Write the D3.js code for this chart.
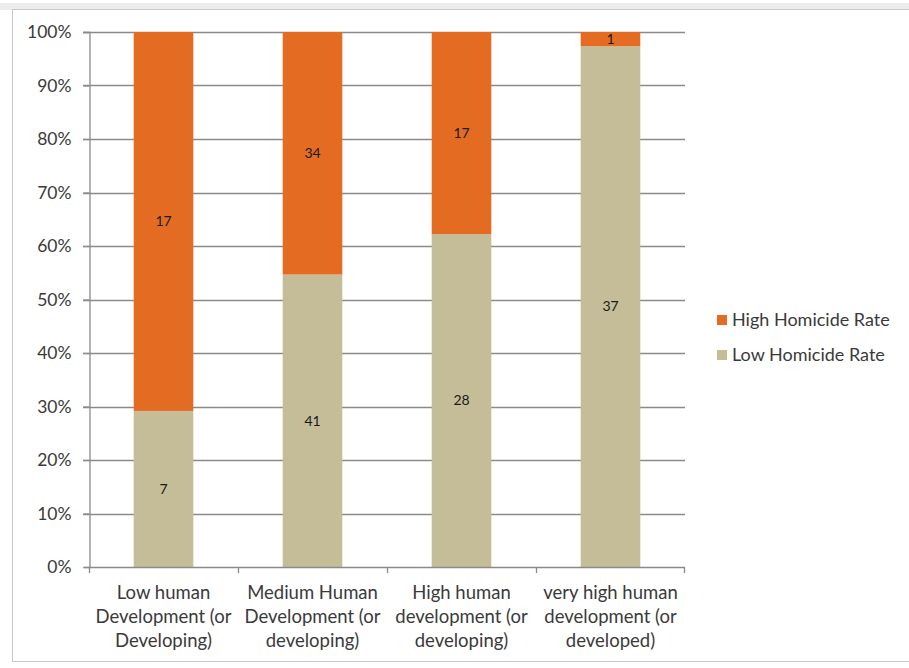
<!DOCTYPE html>
<html>
<head>
<meta charset="utf-8">
<script src="https://cdn.jsdelivr.net/npm/d3@7"></script>
<style>
  body { margin: 0; background: #fff; }
  svg text { font-family: Lato, "Open Sans", sans-serif; }
</style>
</head>
<body>
<div id="chart"></div>
<script>
// Data
const categories = [
    ['Low human', 'Development (or', 'Developing)'],
    ['Medium Human', 'Development (or', 'developing)'],
    ['High human', 'development (or', 'developing)'],
    ['very high human', 'development (or', 'developed)']
]
const lowRate = [7, 41, 28, 37]
const highRate = [17, 34, 17, 1]
const seriesNames = ['High Homicide Rate', 'Low Homicide Rate']
const yTicks = [0, 0.1, 0.2, 0.3, 0.4, 0.5, 0.6, 0.7, 0.8, 0.9, 1]

// Colors
const highColor = '#E46C22'
const lowColor = '#C4BD97'
const gridColor = '#8a8a8a'
const fontColor = '#3a3a3a'

// Dimensions
const width = 909
const height = 668
const plotLeft = 89
const plotRight = 685
const plotTop = 32
const plotBottom = 567

const svg = d3.select('#chart')
    .append('svg')
    .attr('width', width)
    .attr('height', height)

// Outer frame
svg.append('rect')
    .attr('x', 0).attr('y', 3)
    .attr('width', width).attr('height', 7)
    .attr('fill', '#ececec')
svg.append('rect')
    .attr('x', 12.5).attr('y', 9.5)
    .attr('width', width + 10).attr('height', 652)
    .attr('fill', 'none')
    .attr('stroke', '#c8c8c8')

const x = d3.scaleBand()
    .domain(d3.range(categories.length))
    .range([plotLeft, plotRight])
    .paddingInner(0.6)
    .paddingOuter(0.3)

const xOuter = d3.scaleBand()
    .domain(d3.range(categories.length))
    .range([plotLeft, plotRight])

const y = d3.scaleLinear()
    .domain([0, 1])
    .range([plotBottom, plotTop])

// Gridlines
svg.append('g')
    .selectAll('line')
    .data(yTicks.slice(1))
    .join('line')
    .attr('x1', plotLeft - 6)
    .attr('x2', plotRight)
    .attr('y1', d => Math.round(y(d)) + 0.5)
    .attr('y2', d => Math.round(y(d)) + 0.5)
    .attr('stroke', gridColor)
    .attr('stroke-width', 1.3)

// Y axis
const yAxis = svg.append('g')
    .attr('transform', `translate(${plotLeft + 0.5},0)`)
    .call(d3.axisLeft(y).tickValues(yTicks).tickFormat(d3.format('.0%')).tickSize(6).tickPadding(12))
yAxis.select('.domain').attr('stroke', gridColor).attr('stroke-width', 1.3)
yAxis.selectAll('.tick line').attr('stroke', gridColor).attr('stroke-width', 1.3)
yAxis.selectAll('.tick text')
    .attr('fill', fontColor)
    .style('font-size', '17.5px')

// Bars
const stacks = categories.map((c, i) => {
    const total = lowRate[i] + highRate[i]
    return [
        { i, key: 'low', v: lowRate[i], y0: 0, y1: lowRate[i] / total, color: lowColor },
        { i, key: 'high', v: highRate[i], y0: lowRate[i] / total, y1: 1, color: highColor }
    ]
}).flat()

svg.append('g')
    .selectAll('rect')
    .data(stacks)
    .join('rect')
    .attr('x', d => x(d.i))
    .attr('width', x.bandwidth())
    .attr('y', d => y(d.y1))
    .attr('height', d => y(d.y0) - y(d.y1))
    .attr('fill', d => d.color)

// Data labels
svg.append('g')
    .selectAll('text')
    .data(stacks)
    .join('text')
    .attr('x', d => x(d.i) + x.bandwidth() / 2)
    .attr('y', d => (y(d.y0) + y(d.y1)) / 2)
    .attr('dy', '0.35em')
    .attr('text-anchor', 'middle')
    .attr('fill', '#1a1a1a')
    .style('font-size', '14px')
    .text(d => d.v)

// X axis
const xAxisG = svg.append('g')
svg.append('line')
    .attr('x1', plotLeft).attr('x2', plotRight)
    .attr('y1', plotBottom + 0.5).attr('y2', plotBottom + 0.5)
    .attr('stroke', gridColor).attr('stroke-width', 1.3)
xAxisG.selectAll('line')
    .data(d3.range(categories.length + 1))
    .join('line')
    .attr('x1', d => d < categories.length ? xOuter(d) + 0.5 : plotRight - 0.5)
    .attr('x2', d => d < categories.length ? xOuter(d) + 0.5 : plotRight - 0.5)
    .attr('y1', plotBottom)
    .attr('y2', plotBottom + 6)
    .attr('stroke', gridColor).attr('stroke-width', 1.3)

const catText = svg.append('g')
    .selectAll('text')
    .data(categories)
    .join('text')
    .attr('text-anchor', 'middle')
    .attr('fill', fontColor)
    .style('font-size', '18.5px')
    .attr('transform', (d, i) => `translate(${xOuter(i) + xOuter.bandwidth() / 2},${plotBottom + 32})`)
catText.selectAll('tspan')
    .data(d => d)
    .join('tspan')
    .attr('x', 0)
    .attr('y', (d, j) => j * 24)
    .text(d => d)

// Legend
const legend = svg.append('g')
    .attr('transform', 'translate(717,320)')
    .selectAll('g')
    .data(seriesNames)
    .join('g')
    .attr('transform', (d, i) => `translate(0,${i * 35})`)
legend.append('rect')
    .attr('x', 0).attr('y', -5)
    .attr('width', 10).attr('height', 10)
    .attr('fill', (d, i) => i === 0 ? highColor : lowColor)
legend.append('text')
    .attr('x', 15)
    .attr('dy', '0.35em')
    .attr('fill', fontColor)
    .style('font-size', '18px')
    .text(d => d)
</script>
</body>
</html>
